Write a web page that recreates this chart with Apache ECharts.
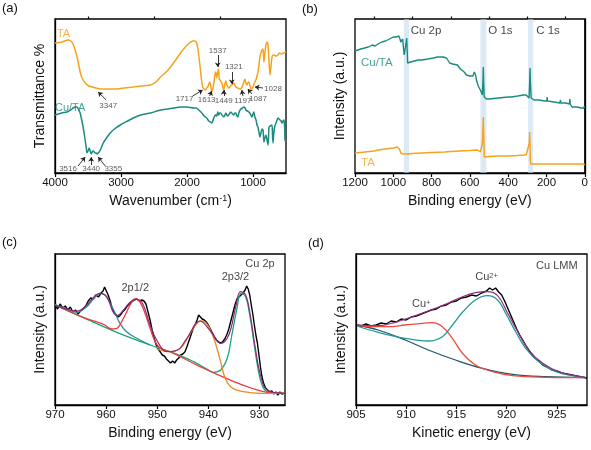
<!DOCTYPE html>
<html><head><meta charset="utf-8">
<script src="https://cdn.jsdelivr.net/npm/echarts@6/dist/echarts.min.js"></script>
<style>html,body{margin:0;padding:0;background:#fff}#c{width:591px;height:450px}</style>
</head><body><div id="c"></div>
<script>
// ---------- Panel (a): FTIR ----------
const ftirTA = [[4000,130],[3900,131],[3800,133],[3760,132],[3726,129],[3690,122],[3665,116],[3640,108],[3619,101],[3590,95],[3543,90],[3490,87],[3437,86],[3380,85],[3315,84],[3200,84],[3056,84],[2950,85],[2813,86],[2700,87],[2554,88],[2470,91],[2402,96],[2300,102],[2204,110],[2130,117],[2052,124],[1980,129],[1915,132],[1880,132],[1854,130],[1830,122],[1808,110],[1785,96],[1763,86],[1740,84],[1717,83],[1700,85],[1686,86],[1656,91],[1640,87],[1626,81],[1610,84],[1595,89],[1580,97],[1565,101],[1550,95],[1540,99],[1525,104],[1510,94],[1490,92],[1473,90],[1458,86],[1443,83],[1430,88],[1412,92],[1395,88],[1367,85],[1340,87],[1321,88],[1290,90],[1260,86],[1230,85],[1200,84],[1184,84],[1160,87],[1138,91],[1123,94],[1108,90],[1093,88],[1078,90],[1062,91],[1045,87],[1030,84],[1017,84],[1000,86],[980,90],[956,93],[935,98],[920,103],[910,108],[895,116],[870,122],[849,124],[840,117],[834,111],[820,120],[804,128],[790,131],[773,129],[758,112],[743,98],[730,105],[712,116],[697,118],[682,118],[650,117],[621,118],[600,120],[575,119],[540,120],[500,121]];
const ftirCuTA = [[4000,58],[3900,60],[3817,61],[3760,63],[3726,65],[3690,66],[3665,66],[3640,63],[3619,60],[3595,53],[3574,46],[3555,38],[3543,33],[3528,26],[3516,20],[3500,22],[3482,25],[3467,22],[3452,19],[3437,21],[3420,22],[3406,21],[3390,20],[3376,20],[3360,19],[3345,20],[3330,21],[3300,25],[3269,30],[3220,35],[3163,40],[3100,44],[3011,48],[2900,52],[2813,55],[2700,58],[2554,60],[2400,63],[2296,64],[2200,65],[2098,66],[2000,66],[1900,65],[1860,65],[1823,63],[1790,61],[1763,59],[1740,57],[1717,56],[1690,54],[1671,52],[1645,51],[1626,50],[1610,52],[1595,55],[1580,57],[1565,58],[1548,57],[1534,61],[1519,58],[1504,60],[1489,60],[1470,58],[1443,56],[1425,58],[1412,60],[1397,58],[1382,57],[1360,59],[1336,61],[1310,59],[1291,58],[1275,60],[1260,60],[1245,57],[1230,56],[1210,61],[1184,64],[1160,65],[1138,66],[1120,65],[1108,63],[1085,62],[1062,61],[1040,59],[1017,56],[1000,59],[986,61],[978,58],[971,56],[950,52],[940,48],[925,46],[910,41],[895,36],[880,40],[864,44],[849,43],[840,36],[834,31],[820,35],[804,38],[790,34],[773,28],[765,35],[758,46],[740,47],[712,48],[705,38],[697,30],[685,40],[670,47],[651,50],[635,53],[621,55],[605,54],[590,53],[575,52],[560,50],[545,52],[530,53],[520,45],[515,33],[500,31]];
const ftirPeakLabels = [['3347',3193,67],['3516',3802,4],['3440',3452,4],['3355',3117,4],['1717',2037,74],['1613',1702,73],['1537',1534,122],['1449',1443,72],['1321',1291,106],['1197',1154,72],['1087',925,74],['1028',697,84]];
const ftirArrows = [[[3224,73],[3346,81]],[[3650,7],[3543,16]],[[3452,8],[3452,16]],[[3239,7],[3346,16]],[[1915,77],[1763,83]],[[1656,77],[1626,82]],[[1534,118],[1534,106]],[[1443,77],[1443,83]],[[1321,101],[1321,89]],[[1154,77],[1169,83]],[[1017,79],[1078,84]],[[849,85],[971,86]]];
const ftirTicks = [1000,2000,3000,4000];
const ftirMinorTicks = [1500,2500,3500];

// ---------- Panel (b): XPS survey ----------
const surveyCuTA = [[1200,122],[1190,123],[1170,124],[1150,125],[1130,126],[1110,128],[1100,130],[1095,127],[1080,129],[1060,131],[1040,132],[1020,134],[1000,136],[992,137],[985,136],[980,138],[971,137],[965,134],[961,131],[956,130],[951,134],[947,125],[943,118],[940,120],[935,128],[930,135],[927,120],[925,110],[910,111],[890,112],[870,113],[852,113],[820,114],[790,115],[769,116],[740,116],[722,115],[712,113],[706,110],[690,109],[665,108],[655,107],[650,104],[644,105],[630,101],[618,98],[600,97],[592,96],[584,97],[577,101],[570,98],[566,93],[558,88],[551,85],[543,82],[535,78],[532,90],[530,106],[528,90],[525,76],[514,74],[500,74],[450,75],[400,76],[384,76],[350,77],[320,78],[306,78],[301,76],[291,75],[288,90],[286,105],[284,90],[280,75],[265,73],[240,73],[210,72],[198,72],[197,76],[195,72],[160,71],[130,70],[127,73],[125,70],[100,70],[80,69],[78,74],[76,69],[67,66],[40,66],[20,65],[5,65],[2,67],[0,67]];
const surveyTA = [[1200,20],[1150,21],[1100,22],[1080,23],[1040,24],[1000,25],[992,26],[980,26],[975,28],[971,27],[968,24],[961,20],[950,19],[925,19],[900,19.5],[850,20],[800,20.5],[732,21],[700,21.5],[650,22],[600,22.5],[560,23],[551,23],[545,21],[540,19],[535,30],[532,45],[530,56],[528,40],[525,16],[520,16],[500,16.5],[450,17],[400,17],[350,17.5],[317,18],[305,18.5],[300,17],[295,20],[290,30],[288,41],[286,30],[284,12],[282,9],[250,9],[200,9],[150,9],[100,9],[50,9],[20,9],[5,9],[0,8]];
const surveyBands = [[945,918],[545,514],[296,270]];
const surveyLabels = [['Cu 2p',909,142],['O 1s',504,142],['C 1s',254,142]];
const surveyTicks = [0,200,400,600,800,1000,1200];
const surveyMinorTicks = [100,300,500,700,900,1100];

// ---------- Panel (c): Cu 2p ----------
const cu2pData = [[970,100],[969.5,96],[969,101],[968.5,97],[968,99],[967.5,95],[967,98],[966.5,93],[966,95],[965.5,91],[965,94],[964.5,96],[964,99],[963.5,104],[963,107],[962.5,106],[962,110],[961.5,108],[961,112],[960.6,114],[960.3,118],[960,116],[959.6,110],[959.2,104],[958.8,96],[958.4,92],[958,90],[957.6,88],[957.2,90],[956.8,93],[956.4,95],[956,98],[955.5,101],[955,103],[954.5,105],[954,106],[953.5,104],[953,105],[952.6,104],[952.2,101],[951.8,93],[951.4,85],[951,75],[950.6,67],[950.2,60],[949.8,56],[949.4,53],[949,50],[948.6,49],[948.2,46],[947.8,44],[947.4,42],[947,44],[946.6,42],[946.2,45],[945.8,47],[945.4,50],[945,51],[944.6,53],[944.2,58],[943.8,64],[943.4,70],[943,76],[942.6,80],[942.2,85],[941.9,90],[941.6,88],[941.2,86],[940.8,85],[940.4,83],[940,80],[939.6,76],[939.2,72],[938.8,68],[938.4,65],[938,63],[937.6,62],[937.2,63],[936.8,66],[936.4,70],[936,76],[935.6,84],[935.2,92],[934.8,100],[934.4,106],[934,108],[933.6,110],[933.2,112],[932.8,115],[932.5,119],[932.2,116],[931.9,110],[931.6,100],[931.3,91],[931,80],[930.7,70],[930.4,62],[930.1,50],[929.8,38],[929.5,28],[929.2,22],[928.8,17],[928.4,15],[928,13],[927.6,14],[927.2,11],[926.8,13],[926.4,10],[926,13],[925.6,11],[925.3,9],[925,12]];
const cu2pSat = [[970,100],[967.7,96],[965.7,92.7],[963.8,98.3],[962.5,106],[961.2,111.7],[960.2,110],[959.2,101.7],[958.2,91.7],[957.3,81.7],[956,73.3],[954,66.7],[951.4,60]];
const cu2pGreen = [[970,100.7],[964.4,87.3],[957.9,72.7],[951.4,60],[946.1,50.7],[942.9,43.3],[940.3,36],[939,32.7],[937.6,35],[936.3,46.7],[935.4,70],[934.4,96.7],[933.6,111.7],[932.7,108.3],[931.9,90],[931.1,63.3],[930.3,36.7],[929.5,20],[928.5,13.3],[926.5,11.7],[925,11.7]];
const cu2pRed = [[970,100],[964.4,87.3],[960.5,80.7],[958.9,76],[957.9,76.7],[956.6,86.7],[955.3,100],[954.3,106],[953.5,104],[952.5,93.3],[951.4,76.7],[950.4,63.3],[949.4,56.7],[946.8,51.7],[941.6,38.3],[935,23.3],[931.1,16],[928.5,12.7],[925,11.7]];
const cu2pOrange = [[950.1,56],[947.5,53.3],[945.5,56.7],[943.9,68.3],[942.5,80],[941.6,84],[940.6,82.7],[939.6,75],[938.6,61.7],[937.6,43.3],[936.7,26.7],[935.4,17.3],[933.1,13.3],[929.8,11.7],[925,11.7]];
const cu2pEnvelope = [[970,100],[965.7,94],[963.8,100],[961.2,111.7],[959.9,108.3],[958.6,92.7],[957.8,89.3],[956.6,95],[955.3,102.7],[954.3,106],[953,102.7],[951.4,80],[950.1,65],[948.1,53.3],[946.1,54.7],[944.2,66.7],[941.6,84],[939.6,74],[937.6,61.7],[936,70],[934.7,96.7],[933.7,113.3],[932.7,110],[931.8,90],[930.8,56.7],[929.8,30],[928.5,15],[925,11.7]];
const cu2pLabels = [['2p1/2',954.3,117],['2p3/2',934.7,128],['Cu 2p',929.9,141]];
const cu2pTicks = [930,940,950,960,970];

// ---------- Panel (d): Cu LMM ----------
const lmmData = [[905,80],[905.5,79],[906,81],[906.5,79],[907,80],[907.5,82],[908,81],[908.5,84],[909,83],[909.5,86],[910,85],[910.5,88],[911,89],[911.5,91],[912,93],[912.5,95],[913,96],[913.5,99],[914,100],[914.5,103],[915,104],[915.5,107],[916,108],[916.5,110],[917,109],[917.5,112],[918,114],[918.3,117],[918.6,115],[918.9,117],[919.2,113],[919.5,110],[919.8,104],[920.1,97],[920.4,90],[920.7,83],[921,76],[921.3,70],[921.6,65],[922,58],[922.4,52],[922.8,47],[923.2,44],[923.6,40],[924,38],[924.5,35],[925,34],[925.5,32],[926,31],[926.5,30],[927,29],[927.5,28],[928,27]];
const lmmBackground = [[905.1,80],[907.2,75],[909.9,65],[912.2,55],[914.9,45],[917.6,36.7],[920.6,30.7],[923.9,28.3],[927.9,27.3]];
const lmmCuI = [[905.1,80],[906.6,78.3],[908.2,78.3],[909.9,80],[911.6,81.7],[912.6,82.3],[913.6,78.3],[914.6,66.7],[915.6,51.7],[916.9,40],[918.6,33.3],[920.6,29.3],[923.9,27.7],[927.9,27.3]];
const lmmCuII = [[905.1,79],[907.2,72.7],[909.9,66.7],[912.2,64],[913.6,68.3],[914.6,80],[915.6,92.7],[916.9,105],[918.1,109.3],[919.1,105],[919.9,91.7],[920.9,73.3],[921.9,56.7],[923.2,43.3],[924.9,33.3],[926.6,29.3],[927.9,27.3]];
const lmmEnvelope = [[905.1,80],[907.2,79.3],[908.9,82.7],[910.6,88.3],[912.2,94],[913.9,100.7],[915.6,108.3],[916.9,112.3],[918.1,113.3],[919.1,109.3],[920.1,91.7],[921.1,73.3],[922.2,55],[923.6,41.7],[925.2,33.3],[927.9,27.3]];
const lmmLabels = [['Cu LMM',925.0,139],['Cu{s|2+}',918.0,128],['Cu{s|+}',911.5,101]];
const lmmTicks = [905,910,915,920,925];

// ---------- styling ----------
const FONT = '"Liberation Sans", Arial, Helvetica, sans-serif';
const C_TA = '#f7a21c', C_CU = '#1a8a80';
const black = '#000';
const axisLine = {show:true, lineStyle:{color:black, width:1.3}};
const grids = [
  {left:55, top:19, width:231, height:154},
  {left:355, top:19, width:231, height:154},
  {left:55, top:254, width:230, height:151},
  {left:356, top:254, width:231, height:151}
].map(g => Object.assign(g, {show:true, borderColor:black, borderWidth:1.3, backgroundColor:'transparent'}));

function xAxis(gi, min, max, inverse, name, ticks, extra) {
  return Object.assign({
    type:'value', gridIndex:gi, min, max, inverse,
    axisLine, splitLine:{show:false},
    axisTick:{show:true, length:4, lineStyle:{color:black, width:1.2}, customValues:ticks},
    axisLabel:{show:true, color:'#111', fontSize:11.5, fontFamily:FONT, margin:4, customValues:ticks, formatter:v => String(v)},
    name, nameLocation:'middle', nameGap:21,
    nameTextStyle:{color:'#111', fontSize:14, fontFamily:FONT, rich:{s:{fontSize:9, verticalAlign:'top', fontFamily:FONT, color:'#111'}}}
  }, extra || {});
}
function minorAxis(gi, min, max, inverse, ticks) {
  return {type:'value', gridIndex:gi, min, max, inverse, axisLine:{show:false}, splitLine:{show:false},
    axisTick:{show:true, length:2.5, lineStyle:{color:black, width:1.2}, customValues:ticks},
    axisLabel:{show:false}};
}
function yAxis(gi, max, name) {
  return {type:'value', gridIndex:gi, min:0, max, axisLine, axisTick:{show:false}, axisLabel:{show:false}, splitLine:{show:false},
    name, nameLocation:'middle', nameGap:8, nameTextStyle:{color:'#111', fontSize:14, fontFamily:FONT}};
}

const line = (xi, data, color, width, smooth, z) => ({type:'line', xAxisIndex:xi, yAxisIndex:[0,0,1,1,2,3][xi], data, showSymbol:false, symbol:'none', smooth: smooth||false,
  lineStyle:{color, width: width||1.4}, itemStyle:{color}, z: z||2, silent:true, animation:false});
const texts = (xi, yi, arr, style) => ({type:'scatter', xAxisIndex:xi, yAxisIndex:yi, symbolSize:0, silent:true, animation:false, z:5,
  data: arr.map(a => ({value:[a[1],a[2]], name:a[0]})),
  label:Object.assign({show:true, position:'inside', formatter:p=>p.name, fontFamily:FONT}, style)});

const option = {
  animation:false,
  textStyle:{fontFamily:FONT},
  grid: grids,
  xAxis: [
    xAxis(0, 500, 4000, true, 'Wavenumber (cm{s|-1})', ftirTicks),
    minorAxis(0, 500, 4000, true, ftirMinorTicks),
    xAxis(1, 0, 1200, true, 'Binding energy (eV)', surveyTicks),
    minorAxis(1, 0, 1200, true, surveyMinorTicks),
    xAxis(2, 925, 970, true, 'Binding energy (eV)', cu2pTicks, {nameGap:21}),
    xAxis(3, 905, 928, false, 'Kinetic energy (eV)', lmmTicks, {nameGap:21})
  ],
  yAxis: [
    yAxis(0, 154, 'Transmittance %'),
    yAxis(1, 154, 'Intensity (a.u.)'),
    yAxis(2, 151, 'Intensity (a.u.)'),
    yAxis(3, 151, 'Intensity (a.u.)')
  ],
  graphic: [
    {type:'text', left:2, top:2, style:{text:'(a)', fontSize:13, fontFamily:FONT, fill:'#111'}},
    {type:'text', left:302, top:3, style:{text:'(b)', fontSize:13, fontFamily:FONT, fill:'#111'}},
    {type:'text', left:2, top:236, style:{text:'(c)', fontSize:13, fontFamily:FONT, fill:'#111'}},
    {type:'text', left:308, top:237, style:{text:'(d)', fontSize:13, fontFamily:FONT, fill:'#111'}}
  ],
  series: [
    // (a)
    line(0, ftirTA, C_TA, 1.5, 0.2),
    line(0, ftirCuTA, C_CU, 1.5, 0.2),
    {type:'lines', coordinateSystem:'cartesian2d', xAxisIndex:0, yAxisIndex:0, silent:true, animation:false, z:4,
      symbol:['none','arrow'], symbolSize:4.5,
      lineStyle:{color:'#222', width:0.9, opacity:1},
      data: ftirArrows.map(c => ({coords:c}))},
    texts(0, 0, ftirPeakLabels, {color:'#333', fontSize:8}),
    texts(0, 0, [['TA',3870,139]], {color:C_TA, fontSize:11}),
    texts(0, 0, [['Cu/TA',3770,65]], {color:C_CU, fontSize:11}),
    // (b)
    line(2, surveyCuTA, C_CU, 1.4),
    line(2, surveyTA, C_TA, 1.4),
    {type:'line', xAxisIndex:2, yAxisIndex:1, data:[[600,-10]], symbol:'none', lineStyle:{opacity:0}, silent:true, z:3,
      markArea:{silent:true, itemStyle:{color:'rgba(196,220,240,0.6)'},
        data: surveyBands.map(b => [{xAxis:b[0]},{xAxis:b[1]}])}},
    texts(2, 1, surveyLabels, {color:'#111', fontSize:11.5, position:'right', distance:0}),
    texts(2, 1, [['Cu/TA',1086,110]], {color:C_CU, fontSize:11.5}),
    texts(2, 1, [['TA',1132,10]], {color:C_TA, fontSize:11.5}),
    // (c)
    line(4, cu2pData, '#000', 1.4, false, 2),
    line(4, cu2pGreen, '#1aa67a', 1.3, 0.4, 3),
    line(4, cu2pSat, '#2f8d9e', 1.3, 0.4, 3),
    line(4, cu2pRed, '#ee3b3b', 1.3, 0.4, 3),
    line(4, cu2pOrange, '#e98a25', 1.3, 0.4, 3),
    line(4, cu2pEnvelope, '#8d2a7d', 1.2, 0.4, 3),
    texts(4, 2, cu2pLabels, {color:'#111', fontSize:11}),
    // (d)
    line(5, lmmData, '#000', 1.4, false, 2),
    line(5, lmmBackground, '#22566a', 1.3, 0.4, 3),
    line(5, lmmCuI, '#f04a40', 1.3, 0.4, 3),
    line(5, lmmCuII, '#1f9a9a', 1.3, 0.4, 3),
    line(5, lmmEnvelope, '#962f86', 1.2, 0.4, 3),
    texts(5, 3, lmmLabels, {color:'#111', fontSize:11, rich:{s:{fontSize:7.5, verticalAlign:'top', color:'#111', fontFamily:FONT}}})
  ]
};
const chart = echarts.init(document.getElementById('c'), null, {renderer:'canvas'});
chart.setOption(option);
</script></body></html>
